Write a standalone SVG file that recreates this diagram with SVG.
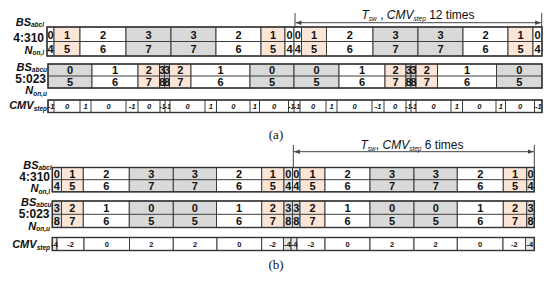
<svg xmlns="http://www.w3.org/2000/svg" width="550" height="287" viewBox="0 0 550 287">
<style>
rect{stroke:#3c3c3c;stroke-width:1}
.w{fill:#fff}.g{fill:#d9d9d9}.p{fill:#fbe5d6}.l{fill:#e6e6e6}
.o{fill:none;stroke:#333;stroke-width:1.4}
.dv{stroke:#3c3c3c;stroke-width:1}
text{font-family:"Liberation Sans",Arial,sans-serif;fill:#111}
.n{font-size:11px;font-weight:bold;text-anchor:middle}
.ci{font-size:7.5px;font-weight:bold;font-style:italic;text-anchor:middle}
.cn{font-size:6.5px;font-weight:bold;font-style:italic;text-anchor:middle}
.cb{font-size:7.5px;font-weight:bold;text-anchor:middle}
.lb{font-size:11px;font-weight:bold;font-style:italic;text-anchor:end}
.lc{font-size:12px;font-weight:bold;text-anchor:end}
.sb{font-size:6.5px}
.tt{font-size:12px;text-anchor:middle}
.cap{font-family:"Liberation Serif","Times New Roman",serif;font-size:13px;text-anchor:middle}
.ar{stroke:#444;stroke-width:1;fill:none}
</style>
<defs>
<marker id="ah" viewBox="0 0 6 6" refX="6" refY="3" markerWidth="6" markerHeight="6" orient="auto-start-reverse" markerUnits="userSpaceOnUse">
<path d="M0,0.8 L6,3 L0,5.2 z" fill="#444"/>
</marker>
</defs>

<!-- labels (a) -->
<g id="labels-a">
<text class="lb" x="44" y="25.5">BS<tspan class="sb" dy="1.5">abcl</tspan></text>
<text class="lc" x="44" y="41.5">4:310</text>
<text class="lb" x="44" y="53.5">N<tspan class="sb" dy="1.5">on,l</tspan></text>
<text class="lb" x="47" y="70.5">BS<tspan class="sb" dy="1.5">abcu</tspan></text>
<text class="lc" x="46" y="82.5">5:023</text>
<text class="lb" x="47" y="94">N<tspan class="sb" dy="1.5">on,u</tspan></text>
<text class="lb" x="47" y="109">CMV<tspan class="sb" dy="1.5">step</tspan></text>
</g>

<!-- table (a) lower switch -->
<g id="table-a1">
<rect class="w" x="47" y="27" width="7" height="29"/>
<rect class="p" x="54" y="27" width="26" height="29"/>
<rect class="w" x="80" y="27" width="46" height="29"/>
<rect class="g" x="126" y="27" width="45" height="29"/>
<rect class="g" x="171" y="27" width="45" height="29"/>
<rect class="w" x="216" y="27" width="45" height="29"/>
<rect class="p" x="261" y="27" width="24" height="29"/>
<rect class="w" x="285" y="27" width="9" height="29"/>
<rect class="w" x="294" y="27" width="7.5" height="29"/>
<rect class="p" x="301.5" y="27" width="25" height="29"/>
<rect class="w" x="326.5" y="27" width="46.5" height="29"/>
<rect class="g" x="373" y="27" width="45" height="29"/>
<rect class="g" x="418" y="27" width="45" height="29"/>
<rect class="w" x="463" y="27" width="45" height="29"/>
<rect class="p" x="508" y="27" width="25" height="29"/>
<rect class="w" x="533" y="27" width="9" height="29"/>
<line class="dv" x1="47" y1="41.5" x2="542" y2="41.5"/>
<rect class="o" x="47" y="27" width="495" height="29"/>
<text class="n" y="38.5"><tspan x="50.5">0</tspan><tspan x="67">1</tspan><tspan x="103">2</tspan><tspan x="148.5">3</tspan><tspan x="193.5">3</tspan><tspan x="238.5">2</tspan><tspan x="273">1</tspan><tspan x="289.5">0</tspan><tspan x="297.8">0</tspan><tspan x="314">1</tspan><tspan x="349.8">2</tspan><tspan x="395.5">3</tspan><tspan x="440.5">3</tspan><tspan x="485.5">2</tspan><tspan x="520.5">1</tspan><tspan x="537.5">0</tspan></text>
<text class="n" y="53"><tspan x="50.5">4</tspan><tspan x="67">5</tspan><tspan x="103">6</tspan><tspan x="148.5">7</tspan><tspan x="193.5">7</tspan><tspan x="238.5">6</tspan><tspan x="273">5</tspan><tspan x="289.5">4</tspan><tspan x="297.8">4</tspan><tspan x="314">5</tspan><tspan x="349.8">6</tspan><tspan x="395.5">7</tspan><tspan x="440.5">7</tspan><tspan x="485.5">6</tspan><tspan x="520.5">5</tspan><tspan x="537.5">4</tspan></text>
</g>

<!-- table (a) upper switch -->
<g id="table-a2">
<rect class="g" x="48" y="64" width="44" height="24"/>
<rect class="w" x="92" y="64" width="46" height="24"/>
<rect class="p" x="138" y="64" width="21.5" height="24"/>
<rect class="g" x="159.5" y="64" width="5" height="24"/>
<rect class="g" x="164.5" y="64" width="5" height="24"/>
<rect class="p" x="169.5" y="64" width="21.5" height="24"/>
<rect class="w" x="191" y="64" width="59" height="24"/>
<rect class="g" x="250" y="64" width="44" height="24"/>
<rect class="g" x="294" y="64" width="45" height="24"/>
<rect class="w" x="339" y="64" width="46" height="24"/>
<rect class="p" x="385" y="64" width="21" height="24"/>
<rect class="g" x="406" y="64" width="5" height="24"/>
<rect class="g" x="411" y="64" width="5" height="24"/>
<rect class="p" x="416" y="64" width="21.5" height="24"/>
<rect class="w" x="437.5" y="64" width="59" height="24"/>
<rect class="g" x="496.5" y="64" width="45.5" height="24"/>
<line class="dv" x1="48" y1="76" x2="542" y2="76"/>
<rect class="o" x="48" y="64" width="494" height="24"/>
<text class="n" y="73.8"><tspan x="70">0</tspan><tspan x="115">1</tspan><tspan x="148.8">2</tspan><tspan x="162">3</tspan><tspan x="167">3</tspan><tspan x="180.3">2</tspan><tspan x="220.5">1</tspan><tspan x="272">0</tspan><tspan x="316.5">0</tspan><tspan x="362">1</tspan><tspan x="395.5">2</tspan><tspan x="408.5">3</tspan><tspan x="413.5">3</tspan><tspan x="426.8">2</tspan><tspan x="467">1</tspan><tspan x="519.3">0</tspan></text>
<text class="n" y="85.8"><tspan x="70">5</tspan><tspan x="115">6</tspan><tspan x="148.8">7</tspan><tspan x="162">8</tspan><tspan x="167">8</tspan><tspan x="180.3">7</tspan><tspan x="220.5">6</tspan><tspan x="272">5</tspan><tspan x="316.5">5</tspan><tspan x="362">6</tspan><tspan x="395.5">7</tspan><tspan x="408.5">8</tspan><tspan x="413.5">8</tspan><tspan x="426.8">7</tspan><tspan x="467">6</tspan><tspan x="519.3">5</tspan></text>
</g>

<!-- CMV (a) -->
<g id="cmv-a">
<rect class="w" x="48" y="100" width="494" height="12.5"/>
<path class="dv" d="M54,100v12.5M80,100v12.5M91,100v12.5M126,100v12.5M138,100v12.5M160,100v12.5M165,100v12.5M170,100v12.5M205,100v12.5M216.5,100v12.5M250,100v12.5M259.5,100v12.5M288.5,100v12.5M294,100v12.5M300,100v12.5M326,100v12.5M337,100v12.5M372,100v12.5M384,100v12.5M406,100v12.5M411,100v12.5M416,100v12.5M451,100v12.5M462.5,100v12.5M496,100v12.5M505.5,100v12.5M534.5,100v12.5"/>
<rect class="o" x="48" y="100" width="494" height="12.5"/>
<text class="ci" y="109"><tspan x="51">-1</tspan><tspan x="67">0</tspan><tspan x="85.5">1</tspan><tspan x="108.5">0</tspan><tspan x="132">-1</tspan><tspan x="149">0</tspan><tspan x="187.5">0</tspan><tspan x="210.8">1</tspan><tspan x="233.3">0</tspan><tspan x="254.8">1</tspan><tspan x="274">0</tspan><tspan x="291.3">-1</tspan><tspan x="297">-1</tspan><tspan x="313">0</tspan><tspan x="331.5">1</tspan><tspan x="354.5">0</tspan><tspan x="378">-1</tspan><tspan x="395">0</tspan><tspan x="433.5">0</tspan><tspan x="456.8">1</tspan><tspan x="479.3">0</tspan><tspan x="500.8">1</tspan><tspan x="520">0</tspan><tspan x="538.3">-1</tspan></text>
<text class="cn" y="108.8"><tspan x="162.5">-1</tspan><tspan x="167.7">-1</tspan><tspan x="408.5">-1</tspan><tspan x="413.7">-1</tspan></text>
</g>

<text class="cap" x="276" y="139">(a)</text>

<!-- labels (b) -->
<g id="labels-b">
<text class="lb" x="51.5" y="168.5">BS<tspan class="sb" dy="1.5">abcl</tspan></text>
<text class="lc" x="50" y="180.5">4:310</text>
<text class="lb" x="50" y="192">N<tspan class="sb" dy="1.5">on,l</tspan></text>
<text class="lb" x="51.5" y="205.5">BS<tspan class="sb" dy="1.5">abcu</tspan></text>
<text class="lc" x="49.5" y="218">5:023</text>
<text class="lb" x="50" y="229.5">N<tspan class="sb" dy="1.5">on,u</tspan></text>
<text class="lb" x="50" y="248">CMV<tspan class="sb" dy="1.5">step</tspan></text>
</g>

<!-- table (b) lower switch -->
<g id="table-b1">
<rect class="l" x="52.3" y="167.5" width="9.2" height="24.3"/>
<rect class="p" x="61.5" y="167.5" width="21.8" height="24.3"/>
<rect class="w" x="83.3" y="167.5" width="46" height="24.3"/>
<rect class="g" x="129.3" y="167.5" width="44" height="24.3"/>
<rect class="g" x="173.3" y="167.5" width="43.2" height="24.3"/>
<rect class="w" x="216.5" y="167.5" width="45.2" height="24.3"/>
<rect class="p" x="261.7" y="167.5" width="22.3" height="24.3"/>
<rect class="l" x="284" y="167.5" width="8.5" height="24.3"/>
<rect class="l" x="292.5" y="167.5" width="7.5" height="24.3"/>
<rect class="p" x="300" y="167.5" width="25" height="24.3"/>
<rect class="w" x="325" y="167.5" width="45" height="24.3"/>
<rect class="g" x="370" y="167.5" width="44" height="24.3"/>
<rect class="g" x="414" y="167.5" width="43.3" height="24.3"/>
<rect class="w" x="457.3" y="167.5" width="46" height="24.3"/>
<rect class="p" x="503.3" y="167.5" width="23.4" height="24.3"/>
<rect class="l" x="526.7" y="167.5" width="7.6" height="24.3"/>
<line class="dv" x1="52.3" y1="179.7" x2="534.3" y2="179.7"/>
<rect class="o" x="52.3" y="167.5" width="482" height="24.3"/>
<text class="n" y="177.7"><tspan x="56.9">0</tspan><tspan x="72.4">1</tspan><tspan x="106.3">2</tspan><tspan x="151.3">3</tspan><tspan x="194.9">3</tspan><tspan x="239.1">2</tspan><tspan x="272.9">1</tspan><tspan x="288.3">0</tspan><tspan x="296.3">0</tspan><tspan x="312.5">1</tspan><tspan x="347.5">2</tspan><tspan x="392">3</tspan><tspan x="435.7">3</tspan><tspan x="480.3">2</tspan><tspan x="515">1</tspan><tspan x="530.5">0</tspan></text>
<text class="n" y="189.8"><tspan x="56.9">4</tspan><tspan x="72.4">5</tspan><tspan x="106.3">6</tspan><tspan x="151.3">7</tspan><tspan x="194.9">7</tspan><tspan x="239.1">6</tspan><tspan x="272.9">5</tspan><tspan x="288.3">4</tspan><tspan x="296.3">4</tspan><tspan x="312.5">5</tspan><tspan x="347.5">6</tspan><tspan x="392">7</tspan><tspan x="435.7">7</tspan><tspan x="480.3">6</tspan><tspan x="515">5</tspan><tspan x="530.5">4</tspan></text>
</g>

<!-- table (b) upper switch -->
<g id="table-b2">
<rect class="g" x="52.3" y="201" width="9.2" height="26.5"/>
<rect class="p" x="61.5" y="201" width="21.8" height="26.5"/>
<rect class="w" x="83.3" y="201" width="46" height="26.5"/>
<rect class="g" x="129.3" y="201" width="44" height="26.5"/>
<rect class="g" x="173.3" y="201" width="43.2" height="26.5"/>
<rect class="w" x="216.5" y="201" width="45.2" height="26.5"/>
<rect class="p" x="261.7" y="201" width="22.3" height="26.5"/>
<rect class="g" x="284" y="201" width="8.5" height="26.5"/>
<rect class="g" x="292.5" y="201" width="7.5" height="26.5"/>
<rect class="p" x="300" y="201" width="25" height="26.5"/>
<rect class="w" x="325" y="201" width="45" height="26.5"/>
<rect class="g" x="370" y="201" width="44" height="26.5"/>
<rect class="g" x="414" y="201" width="43.3" height="26.5"/>
<rect class="w" x="457.3" y="201" width="46" height="26.5"/>
<rect class="p" x="503.3" y="201" width="23.4" height="26.5"/>
<rect class="g" x="526.7" y="201" width="7.6" height="26.5"/>
<line class="dv" x1="52.3" y1="214.3" x2="534.3" y2="214.3"/>
<rect class="o" x="52.3" y="201" width="482" height="26.5"/>
<text class="n" y="211.7"><tspan x="56.9">3</tspan><tspan x="72.4">2</tspan><tspan x="106.3">1</tspan><tspan x="151.3">0</tspan><tspan x="194.9">0</tspan><tspan x="239.1">1</tspan><tspan x="272.9">2</tspan><tspan x="288.3">3</tspan><tspan x="296.3">3</tspan><tspan x="312.5">2</tspan><tspan x="347.5">1</tspan><tspan x="392">0</tspan><tspan x="435.7">0</tspan><tspan x="480.3">1</tspan><tspan x="515">2</tspan><tspan x="530.5">3</tspan></text>
<text class="n" y="224.8"><tspan x="56.9">8</tspan><tspan x="72.4">7</tspan><tspan x="106.3">6</tspan><tspan x="151.3">5</tspan><tspan x="194.9">5</tspan><tspan x="239.1">6</tspan><tspan x="272.9">7</tspan><tspan x="288.3">8</tspan><tspan x="296.3">8</tspan><tspan x="312.5">7</tspan><tspan x="347.5">6</tspan><tspan x="392">5</tspan><tspan x="435.7">5</tspan><tspan x="480.3">6</tspan><tspan x="515">7</tspan><tspan x="530.5">8</tspan></text>
</g>

<!-- CMV (b) -->
<g id="cmv-b">
<rect class="l" x="52.3" y="237.5" width="4.7" height="13"/>
<rect class="w" x="57" y="237.5" width="27" height="13"/>
<rect class="w" x="84" y="237.5" width="45.5" height="13"/>
<rect class="w" x="129.5" y="237.5" width="43.8" height="13"/>
<rect class="w" x="173.3" y="237.5" width="43.7" height="13"/>
<rect class="w" x="217" y="237.5" width="44.7" height="13"/>
<rect class="w" x="261.7" y="237.5" width="21.8" height="13"/>
<rect class="l" x="283.5" y="237.5" width="7.5" height="13"/>
<rect class="l" x="291" y="237.5" width="6" height="13"/>
<rect class="w" x="297" y="237.5" width="28" height="13"/>
<rect class="w" x="325" y="237.5" width="45" height="13"/>
<rect class="w" x="370" y="237.5" width="44" height="13"/>
<rect class="w" x="414" y="237.5" width="43.3" height="13"/>
<rect class="w" x="457.3" y="237.5" width="45.7" height="13"/>
<rect class="w" x="503" y="237.5" width="22.5" height="13"/>
<rect class="l" x="525.5" y="237.5" width="8.8" height="13"/>
<rect class="o" x="52.3" y="237.5" width="482" height="13"/>
<text class="cb" y="247"><tspan x="54.7">-4</tspan><tspan x="70.5">-2</tspan><tspan x="106.8">0</tspan><tspan x="151.4">2</tspan><tspan x="195.2">2</tspan><tspan x="239.4">0</tspan><tspan x="272.6">-2</tspan><tspan x="287.3">-4</tspan><tspan x="294">-4</tspan><tspan x="311">-2</tspan><tspan x="347.5">0</tspan><tspan x="392">2</tspan><tspan x="435.7">2</tspan><tspan x="480.2">0</tspan><tspan x="514.3">-2</tspan><tspan x="529.9">-4</tspan></text>
</g>

<text class="cap" x="276" y="269">(b)</text>

<!-- period annotations -->
<g id="connectors">
<path class="ar" d="M295,13V27M541.7,13V27"/>
<line class="ar" x1="295.5" y1="22.7" x2="541.2" y2="22.7" marker-start="url(#ah)" marker-end="url(#ah)"/>
<path class="ar" d="M293.3,145V167.5M534.3,145V167.5"/>
<line class="ar" x1="293.8" y1="151.7" x2="533.8" y2="151.7" marker-start="url(#ah)" marker-end="url(#ah)"/>
</g>
<text class="tt" x="418" y="18.5"><tspan font-style="italic">T</tspan><tspan class="sb" dy="2" font-style="italic">sw</tspan><tspan dy="-2"> , </tspan><tspan font-style="italic">CMV</tspan><tspan class="sb" dy="2" font-style="italic">step</tspan><tspan dy="-2"> 12 times</tspan></text>
<text class="tt" x="412" y="149"><tspan font-style="italic">T</tspan><tspan class="sb" dy="2" font-style="italic">sw</tspan><tspan dy="-2">, </tspan><tspan font-style="italic">CMV</tspan><tspan class="sb" dy="2" font-style="italic">step</tspan><tspan dy="-2"> 6 times</tspan></text>
</svg>
